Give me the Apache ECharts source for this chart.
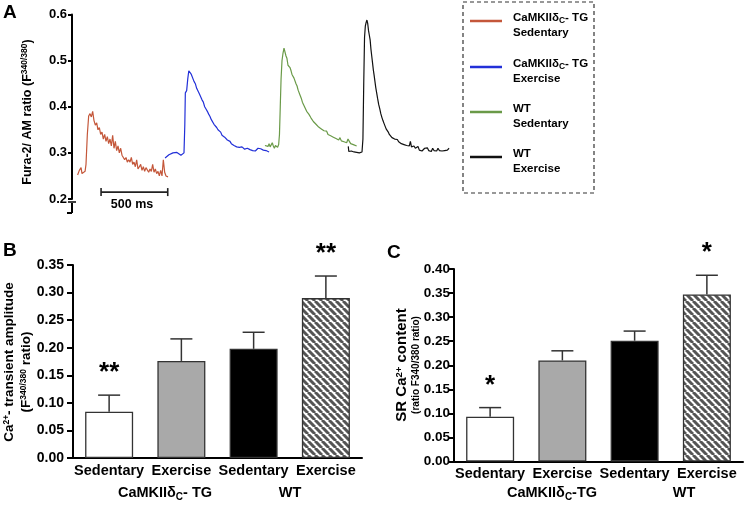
<!DOCTYPE html>
<html><head><meta charset="utf-8">
<script src="https://cdn.jsdelivr.net/npm/echarts@6/dist/echarts.min.js"></script>
<style>html,body{margin:0;padding:0;background:#fff}#c{width:750px;height:507px}</style>
</head><body><div id="c"></div>
<script>
// ---------- Panel A: Ca2+ transient traces (time in ms, ratio) ----------
const redTrace = [[42,0.252],[55,0.262],[68,0.268],[75,0.255],[85,0.258],[98,0.26],[105,0.275],[115,0.34],[125,0.38],[135,0.385],[145,0.378],[155,0.39],[165,0.37],[175,0.36],[185,0.365],[195,0.35],[205,0.355],[215,0.34],[225,0.345],[235,0.33],[245,0.34],[255,0.325],[265,0.335],[275,0.32],[285,0.33],[295,0.315],[305,0.338],[315,0.31],[325,0.325],[335,0.305],[345,0.315],[355,0.3],[365,0.31],[375,0.295],[385,0.298],[395,0.285],[405,0.29],[415,0.28],[425,0.285],[435,0.28],[445,0.29],[455,0.275],[465,0.28],[475,0.27],[485,0.285],[495,0.265],[505,0.27],[515,0.275],[525,0.262],[535,0.27],[545,0.26],[555,0.268],[565,0.272],[575,0.258],[585,0.265],[595,0.26],[605,0.275],[615,0.258],[625,0.265],[635,0.255],[645,0.26],[655,0.25],[665,0.262],[675,0.25],[685,0.285],[695,0.258],[705,0.25],[720,0.248]];
const blueTrace = [[698,0.289],[712,0.292],[727,0.296],[742,0.298],[757,0.3],[772,0.298],[787,0.301],[802,0.297],[817,0.295],[832,0.294],[840,0.3],[846,0.36],[850,0.43],[860,0.435],[868,0.46],[876,0.478],[885,0.478],[895,0.47],[905,0.468],[915,0.455],[925,0.45],[935,0.44],[945,0.438],[955,0.428],[965,0.424],[975,0.415],[985,0.41],[995,0.4],[1005,0.395],[1015,0.39],[1025,0.384],[1035,0.379],[1045,0.372],[1055,0.368],[1065,0.362],[1075,0.358],[1085,0.355],[1095,0.35],[1105,0.346],[1115,0.345],[1125,0.338],[1135,0.341],[1145,0.334],[1155,0.33],[1165,0.328],[1175,0.325],[1185,0.325],[1195,0.32],[1205,0.318],[1215,0.316],[1225,0.318],[1235,0.313],[1245,0.314],[1255,0.312],[1265,0.31],[1275,0.313],[1285,0.309],[1295,0.308],[1305,0.307],[1315,0.31],[1325,0.306],[1335,0.307],[1345,0.305],[1355,0.305],[1365,0.307],[1375,0.304],[1385,0.305],[1395,0.31],[1405,0.312],[1415,0.309],[1425,0.305],[1435,0.306],[1445,0.303],[1455,0.305],[1465,0.303],[1478,0.302]];
const greenTrace = [[1447,0.316],[1455,0.312],[1462,0.318],[1470,0.314],[1478,0.32],[1486,0.313],[1494,0.317],[1502,0.322],[1510,0.315],[1518,0.31],[1526,0.316],[1534,0.32],[1542,0.312],[1550,0.318],[1556,0.34],[1562,0.4],[1568,0.46],[1575,0.5],[1582,0.515],[1590,0.527],[1597,0.526],[1605,0.51],[1612,0.505],[1620,0.49],[1628,0.492],[1635,0.485],[1643,0.478],[1650,0.47],[1658,0.472],[1665,0.462],[1672,0.459],[1680,0.45],[1688,0.445],[1696,0.436],[1704,0.432],[1712,0.424],[1720,0.418],[1728,0.41],[1736,0.405],[1744,0.4],[1752,0.396],[1760,0.39],[1768,0.388],[1776,0.384],[1784,0.382],[1792,0.376],[1800,0.372],[1810,0.368],[1820,0.366],[1830,0.362],[1840,0.36],[1850,0.356],[1860,0.358],[1870,0.352],[1880,0.35],[1890,0.348],[1900,0.345],[1910,0.347],[1920,0.34],[1930,0.342],[1940,0.337],[1950,0.339],[1960,0.334],[1970,0.336],[1980,0.331],[1990,0.333],[2000,0.328],[2010,0.333],[2020,0.326],[2030,0.33],[2040,0.324],[2050,0.328],[2060,0.322],[2070,0.33],[2080,0.325],[2090,0.32],[2100,0.324],[2110,0.318],[2120,0.322],[2135,0.315]];
const blackTrace = [[2072,0.314],[2076,0.303],[2085,0.302],[2095,0.304],[2105,0.3],[2115,0.302],[2125,0.299],[2135,0.301],[2145,0.299],[2155,0.3],[2165,0.298],[2175,0.302],[2182,0.33],[2188,0.45],[2194,0.55],[2200,0.575],[2206,0.583],[2212,0.588],[2218,0.58],[2224,0.565],[2230,0.555],[2236,0.545],[2242,0.525],[2248,0.51],[2254,0.495],[2260,0.48],[2266,0.468],[2272,0.455],[2278,0.442],[2285,0.43],[2292,0.418],[2300,0.405],[2308,0.396],[2316,0.385],[2324,0.377],[2332,0.37],[2340,0.364],[2348,0.358],[2356,0.352],[2364,0.348],[2372,0.345],[2380,0.34],[2390,0.337],[2400,0.333],[2410,0.331],[2420,0.33],[2430,0.327],[2440,0.329],[2450,0.324],[2460,0.323],[2470,0.32],[2480,0.322],[2490,0.318],[2500,0.32],[2510,0.316],[2520,0.318],[2530,0.315],[2538,0.325],[2546,0.313],[2555,0.312],[2565,0.315],[2575,0.31],[2585,0.31],[2595,0.314],[2605,0.306],[2615,0.309],[2625,0.304],[2635,0.303],[2645,0.31],[2655,0.306],[2665,0.311],[2675,0.305],[2685,0.308],[2695,0.303],[2705,0.31],[2715,0.305],[2725,0.307],[2735,0.304],[2745,0.31],[2755,0.305],[2765,0.308],[2775,0.304],[2785,0.307],[2795,0.305],[2805,0.309],[2815,0.306],[2828,0.31]];
const scaleBarMs = [218, 718];        // 500 ms scale bar
const scaleBarLevel = 0.215;
const traceTicksA = [0.2, 0.6, 0.1];  // min, max, step

// ---------- Panels B and C: bars ----------
const categories = ['Sedentary', 'Exercise', 'Sedentary', 'Exercise'];
const groupLabels = ['CaMKIIδC- TG', 'WT'];
const ampMean = [0.084, 0.176, 0.198, 0.290];
const ampSem  = [0.030, 0.040, 0.030, 0.040];
const ampStars = ['**', '', '', '**'];
const contentMean = [0.093, 0.210, 0.251, 0.347];
const contentSem  = [0.019, 0.020, 0.020, 0.040];
const contentStars = ['*', '', '', '*'];

const FF = 'Liberation Sans, Arial, sans-serif';
const traceColors = ['#c4573a', '#2230d8', '#6a9a48', '#111111'];

function hatch() {
  const n = 7;
  const c = document.createElement('canvas');
  c.width = n; c.height = n;
  const g = c.getContext('2d');
  g.fillStyle = '#ffffff'; g.fillRect(0, 0, n, n);
  g.strokeStyle = '#555555'; g.lineWidth = 3;
  g.beginPath();
  for (let k = -n; k <= 2 * n; k += n) { g.moveTo(k, 0); g.lineTo(k + n, n); }
  g.stroke();
  return c;
}
const barFills = ['#ffffff', '#a9a9a9', '#000000', { image: hatch(), repeat: 'repeat' }];

const chart = echarts.init(document.getElementById('c'), null, { renderer: 'canvas' });

const axisLineStyle = { color: '#000', width: 2 };
function barY(grid, max, fs, margin) {
  return {
    gridIndex: grid, type: 'value', min: 0, max: max, interval: 0.05,
    axisLine: { show: true, lineStyle: axisLineStyle },
    axisTick: { show: true, length: 6, lineStyle: { color: '#000', width: 2 } },
    axisLabel: { formatter: v => v.toFixed(2), color: '#000', fontWeight: 'bold', fontSize: fs, fontFamily: FF, margin: margin },
    splitLine: { show: false }
  };
}
function barX(grid) {
  return {
    gridIndex: grid, type: 'category', data: categories,
    axisTick: { show: false },
    axisLine: { lineStyle: axisLineStyle },
    axisLabel: { interval: 0, color: '#000', fontWeight: 'bold', fontSize: 14.5, fontFamily: FF, margin: 5 }
  };
}
function barSeries(axis, means) {
  return {
    type: 'bar', xAxisIndex: axis, yAxisIndex: axis, barWidth: 48,
    data: means.map((v, i) => ({ value: v, itemStyle: { color: barFills[i] } })),
    itemStyle: { borderColor: '#333', borderWidth: 1.3 },
    silent: true
  };
}
function errSeries(axis, means, sems, stars, starSize) {
  return {
    type: 'custom', xAxisIndex: axis, yAxisIndex: axis, z: 5,
    data: means.map((m, i) => [i, m, sems[i]]),
    renderItem: function (params, api) {
      const i = api.value(0), m = api.value(1), e = api.value(2);
      const p0 = api.coord([i, m]);
      const p1 = api.coord([i, m + e]);
      const st = { stroke: '#333', lineWidth: 1.5 };
      const ch = [
        { type: 'line', shape: { x1: p0[0], y1: p0[1], x2: p1[0], y2: p1[1] }, style: st },
        { type: 'line', shape: { x1: p1[0] - 11, y1: p1[1], x2: p1[0] + 11, y2: p1[1] }, style: st }
      ];
      const s = stars[params.dataIndex];
      if (s) ch.push({ type: 'text', style: { text: s, x: p1[0], y: p1[1] - 9, align: 'center', verticalAlign: 'bottom', fill: '#000', font: 'bold ' + starSize + 'px ' + FF } });
      return { type: 'group', children: ch };
    }
  };
}

const rich = {
  n: { fontFamily: FF, fontWeight: 'bold', fontSize: 13, fill: '#000', color: '#000' },
  s: { fontFamily: FF, fontWeight: 'bold', fontSize: 8.5, color: '#000', verticalAlign: 'top', lineHeight: 14 }
};
function rtext(x, y, text, richStyle, rot, align) {
  return { type: 'text', x: x, y: y, rotation: rot || 0,
    style: { text: text, rich: richStyle, align: align || 'center', verticalAlign: 'middle', fill: '#000' } };
}
const legRich = {
  n: { fontFamily: FF, fontWeight: 'bold', fontSize: 11.5, color: '#000', lineHeight: 15 },
  sub: { fontFamily: FF, fontWeight: 'bold', fontSize: 8.5, color: '#000', verticalAlign: 'bottom', lineHeight: 15 }
};
const legendTexts = [
  '{n|CaMKIIδ}{sub|C}{n|- TG}\n{n|Sedentary}',
  '{n|CaMKIIδ}{sub|C}{n|- TG}\n{n|Exercise}',
  '{n|WT}\n{n|Sedentary}',
  '{n|WT}\n{n|Exercise}'
];
const legendY = [21, 67, 112, 157];
const legendGraphics = [{ type: 'rect', shape: { x: 463, y: 2, width: 131, height: 191 }, style: { fill: 'none', stroke: '#333', lineWidth: 1.2, lineDash: [4, 3] } }];
legendTexts.forEach((t, i) => {
  legendGraphics.push({ type: 'line', shape: { x1: 470, y1: legendY[i], x2: 502, y2: legendY[i] }, style: { stroke: traceColors[i], lineWidth: 2.5 } });
  legendGraphics.push({ type: 'text', x: 513, y: legendY[i] - 11, style: { text: t, rich: legRich, align: 'left', verticalAlign: 'top' } });
});

const grpRich = {
  n: { fontFamily: FF, fontWeight: 'bold', fontSize: 14.5, color: '#000', lineHeight: 18 },
  sub: { fontFamily: FF, fontWeight: 'bold', fontSize: 10, color: '#000', verticalAlign: 'bottom', lineHeight: 18 }
};
const grpText = '{n|CaMKIIδ}{sub|C}{n|- TG}';
const grpTextC = '{n|CaMKIIδ}{sub|C}{n|-TG}';

const option = {
  animation: false,
  textStyle: { fontFamily: FF },
  grid: [
    { left: 72, top: 14.5, width: 380, height: 184.5 },
    { left: 73, top: 265, width: 289, height: 193 },
    { left: 454, top: 269, width: 289, height: 192.5 }
  ],
  xAxis: [
    { gridIndex: 0, type: 'value', min: 0, max: 2850, show: false },
    barX(1), barX(2)
  ],
  yAxis: [
    { gridIndex: 0, type: 'value', min: traceTicksA[0], max: traceTicksA[1], interval: traceTicksA[2],
      axisLine: { show: true, lineStyle: axisLineStyle },
      axisTick: { show: true, length: 4, lineStyle: { color: '#000', width: 2 } },
      axisLabel: { formatter: v => v.toFixed(1), color: '#000', fontWeight: 'bold', fontSize: 13, fontFamily: FF, margin: 5 },
      splitLine: { show: false } },
    barY(1, 0.35, 14, 9),
    barY(2, 0.40, 13.5, 4)
  ],
  series: [
    ...[redTrace, blueTrace, greenTrace, blackTrace].map((d, i) => ({
      type: 'line', xAxisIndex: 0, yAxisIndex: 0, data: d, showSymbol: false, silent: true,
      lineStyle: { color: traceColors[i], width: 1.2 }
    })),
    { type: 'line', xAxisIndex: 0, yAxisIndex: 0, data: scaleBarMs.map(t => [t, scaleBarLevel]),
      symbol: 'rect', symbolSize: [1.6, 8], showSymbol: true, silent: true,
      itemStyle: { color: '#222' }, lineStyle: { color: '#222', width: 1.6 } },
    barSeries(1, ampMean), errSeries(1, ampMean, ampSem, ampStars, 26),
    barSeries(2, contentMean), errSeries(2, contentMean, contentSem, contentStars, 26)
  ],
  graphic: [
    { type: 'text', x: 3, y: 3, style: { text: 'A', font: 'bold 19px ' + FF, fill: '#000' } },
    { type: 'text', x: 3, y: 241, style: { text: 'B', font: 'bold 19px ' + FF, fill: '#000' } },
    { type: 'text', x: 387, y: 243, style: { text: 'C', font: 'bold 19px ' + FF, fill: '#000' } },
    // axis break in A
    { type: 'line', shape: { x1: 72, y1: 203, x2: 72, y2: 213 }, style: { stroke: '#000', lineWidth: 2 } },
    { type: 'line', shape: { x1: 67, y1: 213, x2: 72, y2: 213 }, style: { stroke: '#000', lineWidth: 2 } },
    { type: 'line', shape: { x1: 68, y1: 202, x2: 76, y2: 202 }, style: { stroke: '#000', lineWidth: 1.5 } },
    { type: 'text', x: 132, y: 205, style: { text: '500 ms', font: 'bold 12.5px ' + FF, fill: '#000', align: 'center', verticalAlign: 'middle' } },
    rtext(27.5, 112, '{n|Fura-2/ AM ratio (F}{s|340/380}{n|)}', { n: Object.assign({}, rich.n, { fontSize: 12.5 }), s: rich.s }, Math.PI / 2),
    rtext(9, 362, '{n|Ca}{s|2+}{n|- transient amplitude}', { n: Object.assign({}, rich.n, { fontSize: 13.5 }), s: rich.s }, Math.PI / 2),
    rtext(26, 372, '{n|(F}{s|340/380}{n| ratio)}', { n: Object.assign({}, rich.n, { fontSize: 13.5 }), s: rich.s }, Math.PI / 2),
    rtext(402, 365, '{n|SR Ca}{s|2+}{n| content}', { n: Object.assign({}, rich.n, { fontSize: 15 }), s: Object.assign({}, rich.s, { fontSize: 9.5 }) }, Math.PI / 2),
    rtext(416, 365, '{n|(ratio F340/380 ratio)}', { n: Object.assign({}, rich.n, { fontSize: 10 }) }, Math.PI / 2),
    rtext(165, 493, grpText, grpRich),
    rtext(290, 493, '{n|' + groupLabels[1] + '}', grpRich),
    rtext(552, 493, grpTextC, grpRich),
    rtext(684, 493, '{n|' + groupLabels[1] + '}', grpRich),
    ...legendGraphics
  ]
};
chart.setOption(option);
</script></body></html>
